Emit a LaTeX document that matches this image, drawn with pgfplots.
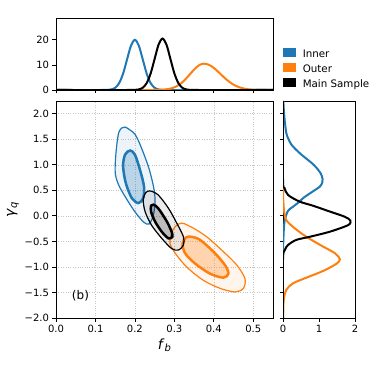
\documentclass[border=0pt]{standalone}
\usepackage{fontspec}
\setmainfont{DejaVu Sans}
\usepackage{pgfplots}
\pgfplotsset{compat=1.18}
\definecolor{tabblue}{RGB}{31,119,180}
\definecolor{taborange}{RGB}{255,127,14}

\pgfplotsset{
  panel/.style={
    scale only axis,
    axis line style={line width=0.8bp},
    tick align=outside,
    major tick length=3.5bp,
    every tick/.style={black, line width=0.8bp},
    xtick pos=bottom, ytick pos=left,
    tick label style={font=\fontsize{10bp}{12bp}\selectfont},
    /pgf/number format/assume math mode=true,
  },
  marg/.style={line width=2bp, smooth},
}

\begin{document}
\begin{tikzpicture}
\path[use as bounding box] (0,0) rectangle (374bp,374bp);

% main panel: 2D contours
\begin{axis}[panel,
  at={(56bp,56bp)}, width=217bp, height=217bp,
  xmin=0, xmax=0.55, ymin=-2, ymax=2.25,
  xtick={0,0.1,0.2,0.3,0.4,0.5},
  xticklabels={0.0,0.1,0.2,0.3,0.4,0.5},
  ytick={-2,-1.5,-1,-0.5,0,0.5,1,1.5,2},
  yticklabels={−2.0,−1.5,−1.0,−0.5,0.0,0.5,1.0,1.5,2.0},
  grid=major, major grid style={dotted, gray!45, line width=0.6bp},
  xlabel={\fontsize{14bp}{16bp}\selectfont\textit{f}\raisebox{-0.3ex}{\fontsize{10bp}{12bp}\selectfont\textit{b}}},
  ylabel={\fontsize{14bp}{16bp}\selectfont\textit{γ}\raisebox{-0.3ex}{\fontsize{10bp}{12bp}\selectfont\textit{q}}},
  xlabel style={yshift=1bp},
  ylabel style={yshift=-1bp},
]
% Inner
\addplot[tabblue, line width=1.2bp, fill=tabblue, fill opacity=0.08, smooth cycle] coordinates {
(0.175,1.74)(0.188,1.68)(0.200,1.60)(0.213,1.40)(0.234,0.97)(0.247,0.58)(0.251,0.31)
(0.247,0.02)(0.236,-0.16)(0.222,-0.12)(0.200,0.08)(0.175,0.38)(0.158,0.62)(0.150,0.85)
(0.152,1.23)(0.158,1.60)(0.166,1.72)};
\addplot[tabblue, line width=2.5bp, fill=tabblue, fill opacity=0.25, smooth cycle] coordinates {
(0.188,1.28)(0.200,1.20)(0.213,0.90)(0.223,0.58)(0.221,0.35)(0.209,0.25)(0.192,0.35)
(0.177,0.64)(0.170,0.97)(0.175,1.20)};
% Outer
\addplot[taborange, line width=1.2bp, fill=taborange, fill opacity=0.08, smooth cycle] coordinates {
(0.319,-0.14)(0.348,-0.24)(0.382,-0.41)(0.420,-0.67)(0.458,-0.96)(0.479,-1.23)(0.475,-1.42)
(0.454,-1.49)(0.416,-1.42)(0.373,-1.26)(0.331,-1.00)(0.302,-0.73)(0.289,-0.54)(0.293,-0.34)
(0.302,-0.21)};
\addplot[taborange, line width=2.5bp, fill=taborange, fill opacity=0.28, smooth cycle] coordinates {
(0.344,-0.41)(0.365,-0.47)(0.399,-0.70)(0.428,-0.96)(0.437,-1.13)(0.424,-1.21)(0.390,-1.13)
(0.352,-0.93)(0.327,-0.73)(0.321,-0.54)(0.330,-0.42)};
% Main Sample
\addplot[black, line width=1.2bp, fill=black, fill opacity=0.08, smooth cycle] coordinates {
(0.238,0.49)(0.259,0.41)(0.285,0.15)(0.306,-0.14)(0.323,-0.41)(0.323,-0.57)(0.310,-0.67)
(0.293,-0.64)(0.268,-0.44)(0.242,-0.18)(0.226,0.08)(0.221,0.31)(0.227,0.45)};
\addplot[black, line width=2.5bp, fill=black, fill opacity=0.2, smooth cycle] coordinates {
(0.247,0.22)(0.259,0.15)(0.281,-0.11)(0.293,-0.31)(0.295,-0.41)(0.285,-0.44)(0.268,-0.31)
(0.251,-0.11)(0.241,0.08)(0.241,0.20)};
\node[font=\fontsize{12bp}{14bp}\selectfont] at (axis cs:0.062,-1.57) {(b)};
\end{axis}

% top panel: f_b marginals
\begin{axis}[panel,
  at={(56bp,284bp)}, width=217bp, height=72bp,
  xmin=0, xmax=0.55, ymin=0, ymax=28.7,
  xtick={0,0.1,0.2,0.3,0.4,0.5}, xticklabels={},
  ytick={0,10,20},
  legend style={at={(1.046,0.58)}, anchor=north west, draw=none, fill=none,
    inner sep=0pt, row sep=3.5bp, column sep=7.5bp,
    nodes={inner sep=0pt, text height=7bp, text depth=2bp,
      font=\fontsize{10.3bp}{12bp}\selectfont}},
  legend cell align=left,
]
\addlegendimage{legend image code/.code={\fill[tabblue] (0bp,-1bp) rectangle (11.7bp,6.7bp);}}
\addlegendentry{Inner}
\addlegendimage{legend image code/.code={\fill[taborange] (0bp,-1bp) rectangle (11.7bp,6.7bp);}}
\addlegendentry{Outer}
\addlegendimage{legend image code/.code={\fill[black] (0bp,-1bp) rectangle (11.7bp,6.7bp);}}
\addlegendentry{Main Sample}
\addplot[marg, tabblue, forget plot] coordinates {
(0,0)(0.12,0)(0.13,0.04)(0.14,0.22)(0.15,0.88)(0.16,2.71)(0.17,6.49)(0.18,12.13)
(0.19,17.65)(0.20,20)(0.21,17.65)(0.22,12.13)(0.23,6.49)(0.24,2.71)(0.25,0.88)
(0.26,0.22)(0.27,0.04)(0.28,0)(0.55,0)};
\addplot[marg, taborange, forget plot] coordinates {
(0,0)(0.25,0)(0.265,0.06)(0.275,0.18)(0.285,0.38)(0.295,0.77)(0.305,1.42)(0.315,2.41)
(0.325,3.79)(0.335,5.47)(0.345,7.27)(0.355,8.92)(0.365,10.08)(0.375,10.5)(0.385,10.21)
(0.395,9.38)(0.405,8.14)(0.415,6.67)(0.425,5.17)(0.435,3.79)(0.445,2.62)(0.455,1.71)
(0.465,1.06)(0.475,0.62)(0.485,0.34)(0.495,0.18)(0.51,0.05)(0.53,0)(0.55,0)};
\addplot[marg, black, forget plot] coordinates {
(0,0)(0.19,0)(0.20,0.04)(0.21,0.23)(0.22,0.90)(0.23,2.78)(0.24,6.65)(0.25,12.4)
(0.26,18.1)(0.27,20.5)(0.28,18.1)(0.29,12.4)(0.30,6.65)(0.31,2.78)(0.32,0.90)
(0.33,0.23)(0.34,0.04)(0.35,0)(0.55,0)};
\end{axis}

% right panel: gamma_q marginals
\begin{axis}[panel,
  at={(283bp,56bp)}, width=72bp, height=217bp,
  xmin=0, xmax=2, ymin=-2, ymax=2.25,
  xtick={0,1,2},
  ytick={-2,-1.5,-1,-0.5,0,0.5,1,1.5,2}, yticklabels={},
]
\addplot[marg, tabblue] coordinates {
(0,-2)(0,-0.7)(0.01,-0.5)(0.02,-0.3)(0.05,-0.08)(0.14,0.10)(0.28,0.18)(0.46,0.28)
(0.56,0.35)(0.83,0.48)(1.02,0.57)(1.09,0.65)(1.10,0.72)(1.05,0.83)(0.92,0.95)
(0.79,1.04)(0.51,1.20)(0.33,1.32)(0.23,1.40)(0.14,1.52)(0.09,1.63)(0.05,1.85)
(0.02,2.1)(0.01,2.25)};
\addplot[marg, taborange] coordinates {
(0,-2)(0.01,-1.85)(0.02,-1.65)(0.09,-1.45)(0.28,-1.32)(0.65,-1.21)(1.11,-1.08)
(1.48,-0.94)(1.58,-0.85)(1.44,-0.73)(1.11,-0.60)(0.65,-0.41)(0.32,-0.24)(0.09,-0.08)
(0.03,0.1)(0.01,0.3)(0,0.5)(0,2.25)};
\addplot[marg, black] coordinates {
(0,-2)(0,-0.85)(0.05,-0.67)(0.14,-0.57)(0.37,-0.47)(0.74,-0.41)(1.30,-0.31)
(1.81,-0.18)(1.87,-0.09)(1.71,-0.015)(1.30,0.085)(0.83,0.20)(0.46,0.28)(0.14,0.41)
(0.04,0.55)(0,0.72)(0,2.25)};
\end{axis}
\end{tikzpicture}
\end{document}
